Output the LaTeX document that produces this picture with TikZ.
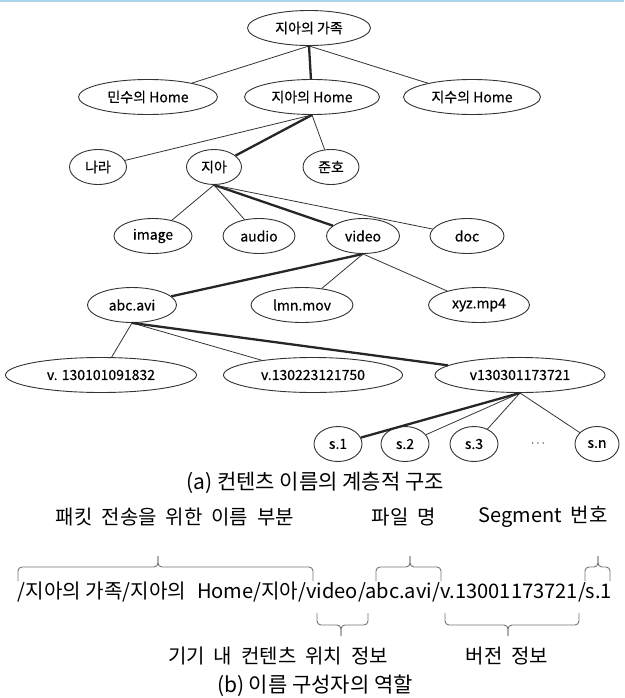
\documentclass[tikz,border=0pt]{standalone}
\usepackage{fontspec}
\setmainfont{Noto Sans CJK KR}
\newfontfamily\ndfont{Noto Sans CJK KR}[FakeBold=0.5]
\newfontfamily\labfont{Noto Sans CJK KR}[WordSpace=2]
\usetikzlibrary{shapes.geometric}
\definecolor{topblue}{HTML}{A8D4EC}
\newcommand\mkupbr[3]{%
  \draw[brc] (#1,581) -- (#1,567) -- (#2,567) -- (#2,556);
  \draw[brc] (#2,556) -- (#2,567) -- (#3,567) -- (#3,581);}
\newcommand\mkdnbr[3]{%
  \draw[brc] (#1,613) -- (#1,625) -- (#2,625) -- (#2,636);
  \draw[brc] (#2,636) -- (#2,625) -- (#3,625) -- (#3,613);}
\begin{document}
\begin{tikzpicture}[x=1pt,y=-1pt,
  nd/.style={ellipse, draw=black!80, line width=0.9pt, inner sep=0pt,
    minimum height=35pt, font=\ndfont\fontsize{14}{16}\selectfont},
  ln/.style={draw=black!80, line width=0.8pt},
  tk/.style={draw=black!85, line width=2.3pt},
  brc/.style={draw=black!55, line width=0.9pt, rounded corners=4pt},
  lab/.style={font=\labfont\fontsize{20}{23}\selectfont, inner sep=0pt},
  captext/.style={font=\fontsize{21}{24}\selectfont, inner sep=0pt},
]
\useasboundingbox (0,0) rectangle (624,698);
\draw[topblue, line width=2pt] (0,1) -- (624,1);

% level 0
\node[nd, minimum width=123pt] (root) at (309,28) {지아의 가족};
% level 1
\node[nd, minimum width=139pt] (minsu) at (148,97) {민수의 Home};
\node[nd, minimum width=135pt] (jiahome) at (312,97) {지아의 Home};
\node[nd, minimum width=137pt] (jisu) at (472,97) {지수의 Home};
% level 2
\node[nd, minimum width=57pt] (nara) at (98,167) {나라};
\node[nd, minimum width=55pt] (jia) at (214,167) {지아};
\node[nd, minimum width=56pt] (junho) at (331,167) {준호};
% level 3
\node[nd, minimum width=78pt] (image) at (153,236) {image};
\node[nd, minimum width=72pt] (audio) at (259,236) {audio};
\node[nd, minimum width=73pt] (video) at (363,236) {video};
\node[nd, minimum width=74pt] (doc) at (467,236) {doc};
% level 4
\node[nd, minimum width=89pt] (abc) at (132,305) {abc.avi};
\node[nd, minimum width=102pt] (lmn) at (302,305) {lmn.mov};
\node[nd, minimum width=101pt] (xyz) at (479,305) {xyz.mp4};
% level 5
\node[nd, minimum width=191pt] (va) at (101,375) {v. 130101091832};
\node[nd, minimum width=179pt] (vb) at (313,375) {v.130223121750};
\node[nd, minimum width=170pt] (vc) at (520,375) {v130301173721};
% level 6
\node[nd, minimum width=48pt] (s1) at (338,444) {s.1};
\node[nd, minimum width=48pt] (s2) at (405,444) {s.2};
\node[nd, minimum width=48pt] (s3) at (474,444) {s.3};
\node[font=\fontsize{13}{15}\selectfont, inner sep=0pt] (sdots) at (538,444) {$\cdots$};
\node[nd, minimum width=44pt] (sn) at (597,444) {s.n};

% edges
\draw[ln] (root.south) -- (minsu);
\draw[tk] (root.south) -- (jiahome);
\draw[ln] (root.south) -- (jisu);
\draw[ln] (jiahome.south) -- (nara);
\draw[tk] (jiahome.south) -- (jia);
\draw[ln] (jiahome.south) -- (junho);
\draw[ln] (jia.south) -- (image);
\draw[ln] (jia.south) -- (audio);
\draw[tk] (jia.south) -- (video);
\draw[ln] (jia.south) -- (doc);
\draw[tk] (video.south) -- (abc);
\draw[ln] (video.south) -- (lmn);
\draw[ln] (video.south) -- (xyz);
\draw[ln] (abc.south) -- (va);
\draw[ln] (abc.south) -- (vb);
\draw[tk] (abc.south) -- (vc);
\draw[tk] (vc.south) -- (s1);
\draw[ln] (vc.south) -- (s2);
\draw[ln] (vc.south) -- (s3);
\draw[ln] (vc.south) -- (sn);

\node[captext] (capa) at (315,483) {(a) 컨텐츠 이름의 계층적 구조};

% part (b)
\node[lab] (lpacket) at (175,517) {패킷 전송을 위한 이름 부분};
\node[lab] (lfile) at (404,517) {파일 명};
\node[lab] (lseg) at (543,517) {Segment 번호};
\mkupbr{18}{158}{313}
\mkupbr{376}{410}{441}
\mkupbr{585}{598}{610}
\node[inner sep=0pt] (path) at (315,592) {\resizebox{594pt}{!}{\fontsize{19}{22}\selectfont /지아의 가족/지아의\hspace{0.55em}Home/지아/video/abc.avi/v.13001173721/s.1}};
\mkdnbr{317}{341}{368}
\mkdnbr{445}{508}{579}
\node[lab] (lloc) at (278,656) {기기 내 컨텐츠 위치 정보};
\node[lab] (lver) at (507,656) {버전 정보};
\node[captext] (capb) at (315,686) {(b) 이름 구성자의 역할};
\end{tikzpicture}
\end{document}
